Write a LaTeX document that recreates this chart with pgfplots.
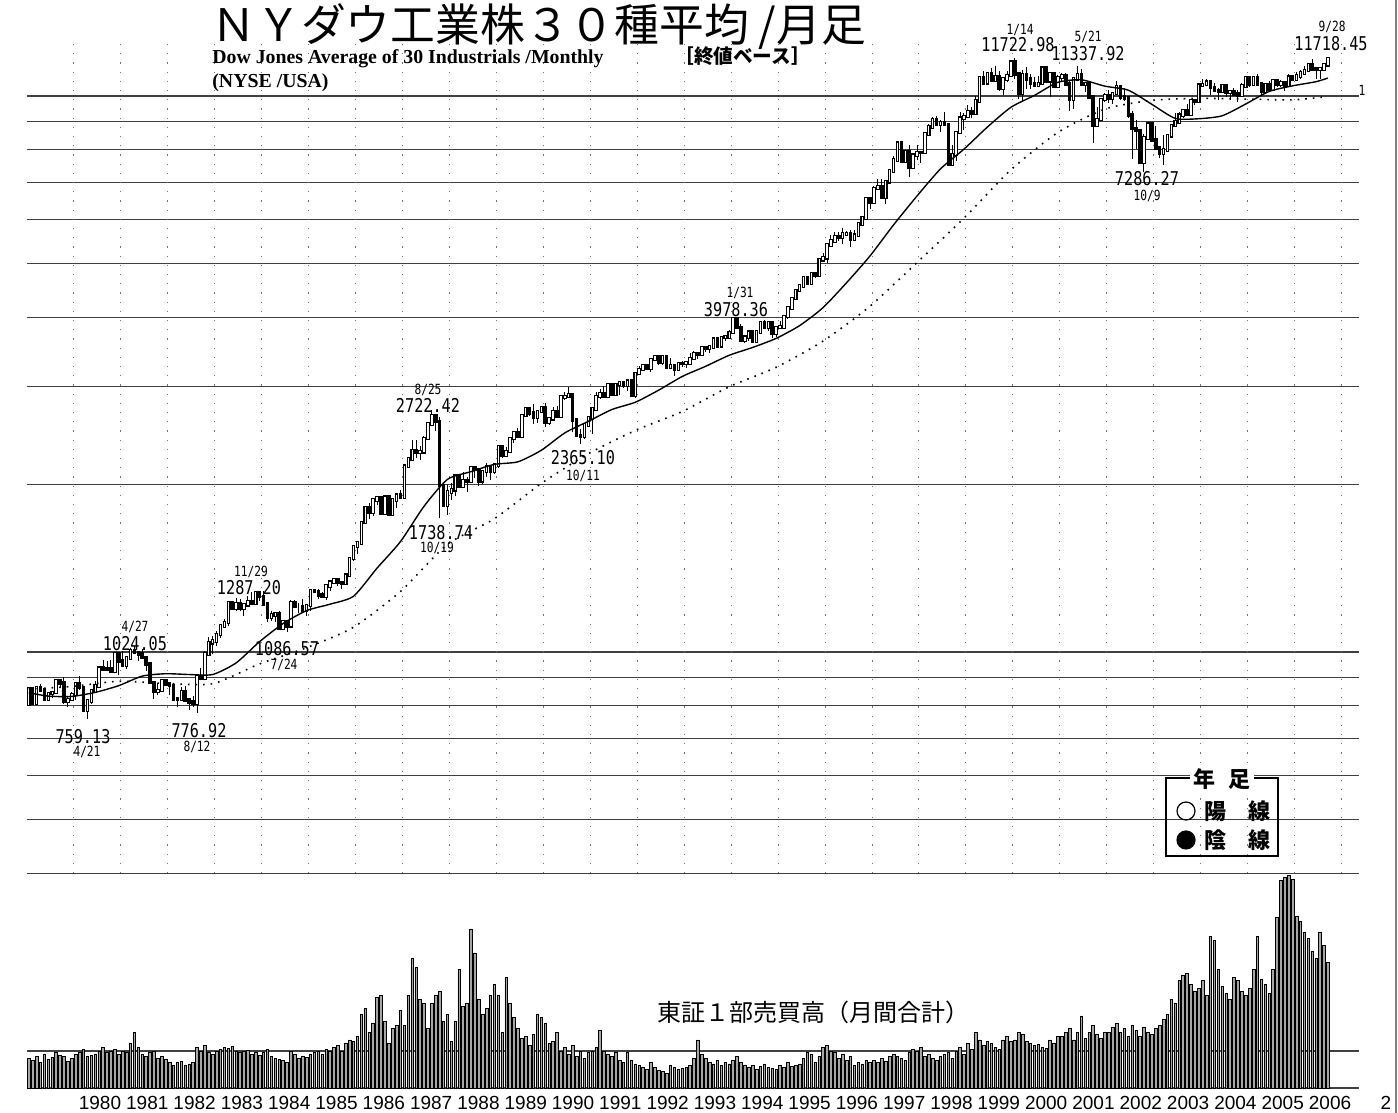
\documentclass[border=0pt]{standalone}
\usepackage{fontspec}
\usepackage{pgfplots}
\pgfplotsset{compat=1.18}
\usepackage{pgfplotstable}
\setmainfont{Liberation Sans}
\newfontfamily\jp{Noto Sans CJK JP}
\newfontfamily\ser{Liberation Serif}
\newfontfamily\mono[FakeStretch=0.8]{DejaVu Sans Mono}

% Dow monthly candles, Jan 1979 - Sep 2006 (close basis): open high low close
\pgfplotstableread{
o h l c
805 866 800 860
860 862 807 809
809 866 806 862
862 875 850 855
855 858 822 822
822 848 820 842
842 852 826 846
846 888 846 888
888 893 862 879
879 900 806 816
816 832 796 822
822 849 822 839
839 881 820 876
876 904 855 863
863 865 785 786
786 818 759.13 817
817 855 805 851
851 887 850 868
868 937 866 935
935 967 930 933
933 963 924 932
932 968 917 924
924 1000 916 993
993 995 908 964
964 1005 938 947
947 975 931 975
975 1016 973 1004
1004 1024.05 990 998
998 999 963 992
992 1011 976 977
977 980 926 952
952 953 881 881
881 885 824 850
850 878 838 853
853 889 852 889
889 893 869 875
875 882 838 871
871 872 824 824
824 824 795 823
823 866 823 848
848 869 819 820
820 821 788 812
812 834 796 809
809 901 776.92 901
901 934 895 896
896 1005 896 992
992 1066 990 1039
1039 1070 990 1047
1047 1093 1027 1076
1076 1121 1060 1113
1113 1146 1104 1130
1130 1227 1113 1226
1226 1233 1190 1200
1200 1249 1185 1222
1222 1244 1183 1199
1199 1216 1163 1216
1216 1260 1206 1233
1233 1284 1223 1225
1225 1287.20 1214 1276
1276 1287 1236 1259
1259 1287 1220 1221
1221 1225 1134 1155
1155 1185 1139 1165
1165 1176 1131 1171
1171 1187 1104 1105
1105 1133 1102 1132
1132 1135 1086.57 1115
1115 1239 1115 1224
1224 1238 1198 1207
1207 1225 1175 1207
1207 1245 1186 1189
1189 1212 1163 1212
1212 1292 1185 1287
1287 1300 1276 1284
1284 1299 1247 1267
1267 1284 1252 1258
1258 1316 1242 1315
1315 1335 1290 1335
1335 1360 1327 1347
1347 1355 1313 1334
1334 1339 1297 1329
1329 1375 1329 1374
1374 1476 1374 1472
1472 1553 1458 1547
1547 1571 1502 1571
1571 1713 1571 1709
1709 1821 1696 1819
1819 1856 1735 1784
1784 1882 1758 1877
1877 1895 1837 1893
1893 1909 1766 1775
1775 1905 1763 1898
1898 1919 1755 1768
1768 1878 1768 1878
1878 1916 1817 1914
1914 1955 1896 1896
1896 2163 1896 2158
2158 2245 2158 2224
2224 2405 2220 2305
2305 2405 2231 2286
2286 2342 2215 2292
2292 2446 2292 2419
2419 2572 2409 2572
2572 2722.42 2546 2663
2663 2663 2493 2596
2596 2641 1738.74 1994
1994 2014 1834 1834
1834 1998 1766 1939
1939 2015 1879 1958
1958 2072 1910 2072
2072 2087 1978 1988
1988 2110 1988 2032
2032 2063 1941 2031
2031 2153 2031 2142
2142 2159 2055 2129
2129 2134 1990 2032
2032 2113 2002 2113
2113 2183 2067 2149
2149 2150 2038 2115
2115 2169 2092 2169
2169 2342 2144 2342
2342 2347 2236 2258
2258 2340 2244 2294
2294 2419 2293 2419
2419 2502 2379 2480
2480 2531 2440 2440
2440 2661 2440 2661
2661 2744 2658 2737
2737 2761 2659 2693
2693 2791 2569 2645
2645 2706 2582 2706
2706 2753 2687 2753
2753 2810 2543 2591
2591 2649 2564 2627
2627 2755 2616 2707
2707 2766 2645 2657
2657 2878 2657 2877
2877 2935 2843 2881
2881 2999 2880 2905
2905 2905 2483 2614
2614 2628 2452 2452
2452 2523 2365.10 2442
2442 2560 2420 2560
2560 2637 2553 2634
2634 2737 2470 2736
2736 2935 2730 2882
2882 2973 2856 2914
2914 3004 2874 2888
2888 3028 2876 3028
3028 3036 2906 2907
2907 3025 2907 3025
3025 3056 2898 3044
3044 3047 2983 3017
3017 3077 2950 3069
3069 3070 2894 2895
2895 3169 2864 3169
3169 3264 3169 3223
3223 3283 3223 3268
3268 3291 3215 3235
3235 3359 3182 3359
3359 3398 3337 3397
3397 3413 3282 3319
3319 3394 3284 3394
3394 3395 3228 3257
3257 3377 3250 3272
3272 3291 3137 3226
3226 3306 3224 3305
3305 3333 3256 3301
3301 3310 3242 3310
3310 3443 3310 3371
3371 3478 3371 3435
3435 3446 3370 3428
3428 3555 3428 3527
3527 3554 3467 3516
3516 3568 3449 3539
3539 3652 3539 3651
3651 3651 3538 3555
3555 3681 3555 3681
3681 3710 3625 3684
3684 3794 3684 3754
3754 3978.36 3754 3978
3978 3978 3809 3832
3832 3896 3626 3636
3636 3705 3594 3682
3682 3766 3629 3758
3758 3773 3625 3625
3625 3765 3625 3765
3765 3917 3737 3913
3913 3954 3831 3843
3843 3937 3775 3908
3908 3908 3674 3739
3739 3863 3685 3834
3834 3932 3832 3844
3844 4011 3844 4011
4011 4173 3979 4158
4158 4321 4158 4321
4321 4465 4321 4465
4465 4589 4465 4556
4556 4727 4556 4708
4708 4708 4580 4611
4611 4801 4611 4789
4789 4802 4703 4755
4755 5105 4755 5074
5074 5216 5059 5117
5117 5395 5000 5395
5395 5631 5374 5486
5486 5683 5470 5587
5587 5689 5486 5569
5569 5778 5420 5643
5643 5719 5624 5655
5655 5729 5346 5529
5529 5734 5529 5616
5616 5894 5607 5882
5882 6094 5882 6029
6029 6547 6029 6522
6522 6561 6269 6448
6448 6883 6442 6813
6813 7079 6813 6878
6878 7085 6583 6583
6583 7009 6391 7009
7009 7384 7009 7331
7331 7796 7269 7673
7673 8254 7673 8223
8223 8223 7622 7622
7622 7996 7622 7945
7945 8178 7161 7442
7442 7881 7401 7823
7823 8150 7660 7908
7908 7978 7580 7907
7907 8546 7907 8546
8546 8906 8540 8800
8800 9184 8800 9063
9063 9211 8900 8900
8900 9070 8627 8952
8952 9338 8883 8883
8883 8883 7539 7539
7539 8154 7539 7843
7843 8592 7632 8592
8592 9374 8592 9117
9117 9320 8696 9181
9181 9644 9120 9359
9359 9552 9134 9307
9307 10007 9297 9786
9786 10879 9786 10789
10789 11108 10466 10560
10560 10971 10491 10971
10971 11209 10655 10655
10655 11300 10646 10829
10829 11079 10213 10337
10337 10730 10019 10730
10730 11090 10582 10878
10878 11497 10878 11497
11497 11722.98 10738 10941
10941 11041 9863 10128
10128 11119 9796 10922
10922 11287 10306 10734
10734 10935 10300 10522
10522 10815 10376 10448
10448 10843 10406 10522
10522 11252 10522 11215
11215 11310 10650 10651
10651 10971 9976 10971
10971 10977 10399 10414
10414 10899 10318 10788
10788 10983 10587 10887
10887 10983 10441 10495
10495 10645 9390 9879
9879 10811 9485 10735
10735 11337.92 10735 10912
10912 11175 10434 10502
10502 10610 10175 10523
10523 10551 9949 9950
9950 9950 8236 8848
8848 9545 8836 9075
9075 9872 9075 9852
9852 10137 9764 10022
10022 10259 9713 9920
9920 10145 9686 10106
10106 10635 10106 10404
10404 10404 9819 9946
9946 10353 9809 9925
9925 9925 9120 9243
9243 9380 7702 8737
8737 9054 8044 8664
8664 8664 7592 7592
7592 8525 7286.27 8397
8397 8931 8368 8896
8896 8896 8303 8342
8342 8843 8053 8054
8054 8110 7749 7891
7891 8522 7524 7992
7992 8502 7992 8480
8480 8850 8454 8850
8850 9323 8850 8985
8985 9338 8985 9234
9234 9429 9127 9416
9416 9659 9275 9275
9275 9837 9275 9801
9801 9858 9619 9782
9782 10454 9782 10454
10454 10738 10454 10488
10488 10737 10488 10584
10584 10678 10048 10358
10358 10571 10226 10226
10226 10317 9852 10188
10188 10479 10188 10435
10435 10435 9962 10140
10140 10195 9815 10174
10174 10342 10080 10080
10080 10240 9750 10027
10027 10572 10027 10428
10428 10855 10428 10783
10783 10784 10368 10490
10490 10841 10490 10766
10766 10940 10456 10504
10504 10504 10012 10193
10193 10542 10140 10467
10467 10623 10275 10275
10275 10706 10270 10641
10641 10697 10397 10482
10482 10682 10378 10569
10569 10569 10216 10440
10440 10932 10396 10806
10806 10889 10700 10718
10718 11043 10667 10865
10865 11137 10749 10993
10993 11317 10959 11109
11109 11382 11073 11367
11367 11642 11095 11168
11168 11247 10707 11150
11150 11220 10739 11186
11186 11382 11076 11381
11381 11718.45 11381 11679
}\price

% TSE 1st section monthly volume (rough units, line at 100)
\pgfplotstableread{
v
80
75
85
70
90
78
82
95
88
85
72
80
90
95
105
85
88
92
100
110
95
98
105
90
100
95
120
150
110
90
85
95
100
80
85
78
70
62
68
72
60
65
70
110
100
115
95
90
100
105
110
108
112
100
95
98
102
90
95
88
95
105
85
80
78
75
70
100
90
80
85
82
90
95
100
92
105
98
110
115
100
120
130
125
140
200
215
150
175
245
250
180
120
160
170
210
170
250
350
325
240
230
160
230
250
260
180
200
125
180
320
220
230
430
365
240
200
215
250
280
250
150
300
230
190
160
135
140
115
145
200
190
175
120
125
150
100
110
90
115
85
100
80
95
100
110
157
100
90
85
95
75
70
95
75
65
60
55
50
70
55
48
45
40
60
55
50
52
55
60
80
130
90
80
70
65
75
60
70
65
75
85
70
60
55
62
50
58
65
55
52
50
60
55
70
58
60
65
80
95
90
70
85
110
115
100
95
80
90
75
85
60
70
65
75
70
75
70
80
72
85
90
85
80
75
95
105
100
110
85
90
80
75
85
90
95
80
100
110
90
120
105
150
130
115
125
120
110
105
130
140
125
130
150
145
125
120
115
118
110
108
130
120
140
140
150
160
130
150
195
135
150
170
145
135
150
150
165
175
150
160
140
170
155
140
165
150
145
160
170
185
200
240
230
290
305
310
280
260
270
290
250
410
400
320
275
255
240
300
290
260
250
270
320
410
295
280
255
320
460
560
570
575
565
465
450
420
405
370
350
420
385
340
}\volume

% 24-month moving average (solid)
\pgfplotstableread{
m v
0 845
5 833
11 832
17 846
23 870
29 905
35 914
41 911
47 911
53 956
59 1044
65 1125
71 1187
77 1219
83 1260
89 1415
95 1580
101 1828
107 2044
113 2110
119 2175
125 2198
131 2306
137 2478
143 2599
149 2729
155 2813
161 2958
167 3130
173 3265
179 3417
185 3530
191 3665
197 3864
203 4164
209 4615
215 5157
221 5863
227 6609
233 7394
239 8024
245 8794
251 9543
257 10023
263 10581
269 10691
275 10414
281 10241
287 9661
293 9112
299 9100
305 9213
311 9672
317 10190
323 10428
329 10610
332 10770
}\maA

% 60-month moving average (dotted)
\pgfplotstableread{
m v
0 858
11 867
23 886
35 878
47 877
59 952
71 1018
83 1108
95 1285
107 1562
119 1737
131 2010
143 2273
155 2503
167 2707
179 2999
191 3251
203 3625
215 4188
227 5017
239 6031
251 7367
263 8598
275 9470
287 9819
299 9900
311 9871
323 9839
332 9975
}\maB

\pgfplotsset{
  candle/.style={draw=none, mark=none, forget plot,
    error bars/y dir=plus, error bars/y explicit, error bars/error mark=none},
}

\begin{document}
\begin{tikzpicture}
% price panel
\begin{axis}[
  at={(13.4pt,119.85pt)}, anchor=south west,
  scale only axis, width=666.2pt, height=415.6pt,
  xmin=-0.5, xmax=340,
  ymode=log, ymin=400, ymax=12500,
  axis line style={draw=none}, tick style={draw=none},
  xtick=\empty,
  ytick={400,500,600,700,800,900,1000,2000,3000,4000,5000,6000,7000,8000,9000,10000},
  yticklabels={},
  ymajorgrids,
  major grid style={black!75, line width=0.6pt},
  extra x ticks={11.5,23.5,...,335.5},
  extra x tick labels={},
  extra x tick style={xmajorgrids=true,
    major grid style={black!55, line width=0.5pt, dash pattern=on 0.6pt off 4pt}},
  clip=false,
]
\addplot[candle, error bars/error bar style={draw=black, line width=0.5pt}]
  table[x expr=\coordindex, y=l, y error plus expr=\thisrow{h}-\thisrow{l}] {\price};
\addplot[candle, restrict expr to domain={\thisrow{c}-\thisrow{o}}{0:100000},
  error bars/error bar style={draw=black, line width=1.8pt, line cap=rect}]
  table[x expr=\coordindex, y=o, y error plus expr=\thisrow{c}-\thisrow{o}] {\price};
\addplot[candle, restrict expr to domain={\thisrow{c}-\thisrow{o}}{0:100000},
  error bars/error bar style={draw=white, line width=0.7pt, line cap=rect}]
  table[x expr=\coordindex, y=o, y error plus expr=\thisrow{c}-\thisrow{o}] {\price};
\addplot[candle, restrict expr to domain={\thisrow{o}-\thisrow{c}}{0.001:100000},
  error bars/error bar style={draw=black, line width=1.8pt, line cap=rect}]
  table[x expr=\coordindex, y=c, y error plus expr=\thisrow{o}-\thisrow{c}] {\price};
\addplot[black, line width=0.7pt, smooth, tension=0.4, mark=none] table[x=m, y=v] {\maA};
\addplot[black, line width=0.8pt, smooth, tension=0.4, mark=none,
  dash pattern=on 0.8pt off 3pt] table[x=m, y=v] {\maB};
\end{axis}

% volume panel
\begin{axis}[
  at={(13.4pt,12.5pt)}, anchor=south west,
  scale only axis, width=666.2pt, height=106pt,
  xmin=-0.5, xmax=340, ymin=0, ymax=573,
  axis line style={draw=none}, tick style={draw=none},
  ytick={0,100}, yticklabels={}, ymajorgrids,
  major grid style={black!75, line width=0.6pt},
  xtick={18.2,30.29,42.38,54.47,66.56,78.65,90.74,102.83,114.92,127.01,139.1,151.19,163.28,175.37,187.46,199.55,211.64,223.73,235.82,247.91,260,272.09,284.18,296.27,308.36,320.45,332.54},
  xticklabels={1980,1981,1982,1983,1984,1985,1986,1987,1988,1989,1990,1991,1992,1993,1994,1995,1996,1997,1998,1999,2000,2001,2002,2003,2004,2005,2006},
  xticklabel style={font=\fontsize{9.5pt}{10pt}\selectfont, anchor=north, inner sep=0pt, yshift=-4pt},
  clip=false,
]
\addplot[ybar, bar width=1.3pt, bar shift=0pt, draw=black, line width=0.35pt, fill=black!35]
  table[x expr=\coordindex, y=v] {\volume};
\end{axis}

% texts, placed in image pixels (0.5pt each, y downwards)
\begin{scope}[x=0.5pt, y=-0.5pt, shift={(0pt,556.5pt)}]
\node[anchor=base west, inner sep=0] at (211,42)
  {\jp\fontsize{22.4pt}{24pt}\selectfont ＮＹダウ工業株３０種平均 /月足};
\node[anchor=base west, inner sep=0] at (212,64)
  {\ser\bfseries\fontsize{9.9pt}{10pt}\selectfont Dow Jones Average of 30 Industrials /Monthly};
\node[anchor=base west, inner sep=0] at (212,88)
  {\ser\bfseries\fontsize{9.9pt}{10pt}\selectfont (NYSE /USA)};
\node[anchor=base west, inner sep=0] at (674,64)
  {\jp\bfseries\fontsize{9.8pt}{11pt}\selectfont ［終値ベース］};

\tikzset{val/.style={inner sep=0, font=\mono\fontsize{9.5pt}{10pt}\selectfont},
         dat/.style={inner sep=0, font=\mono\fontsize{7pt}{8pt}\selectfont}}
\node[dat] at (1020,30) {1/14};   \node[val] at (1018,45) {11722.98};
\node[dat] at (1088,37) {5/21};   \node[val] at (1088,54) {11337.92};
\node[dat] at (1332,27) {9/28};   \node[val] at (1331,44) {11718.45};
\node[val] at (1147,179) {7286.27}; \node[dat] at (1147,196) {10/9};
\node[dat] at (740,293) {1/31};   \node[val] at (736,310) {3978.36};
\node[dat] at (428,390) {8/25};   \node[val] at (428,405) {2722.42};
\node[val] at (583,458) {2365.10}; \node[dat] at (583,476) {10/11};
\node[val] at (441,533) {1738.74}; \node[dat] at (437,548) {10/19};
\node[dat] at (251,572) {11/29};  \node[val] at (249,588) {1287.20};
\node[val] at (287,649) {1086.57}; \node[dat] at (284,665) {7/24};
\node[dat] at (135,627) {4/27};   \node[val] at (135,644) {1024.05};
\node[val] at (83,737) {759.13};  \node[dat] at (87,752) {4/21};
\node[val] at (199,731) {776.92}; \node[dat] at (197,747) {8/12};
\node[dat] at (1362,90) {1};

% legend box
\draw[black, line width=1pt] (1166,778) rectangle (1278,856);
\node[fill=white, inner sep=1.5pt] at (1222,779)
  {\jp\bfseries\fontsize{11pt}{12pt}\selectfont 年\hspace{0.6em}足};
\draw[black, line width=0.6pt] (1186,811) circle[radius=4.5pt];
\fill[black] (1186,840) circle[radius=4.8pt];
\node[anchor=west, inner sep=0] at (1204,811)
  {\jp\bfseries\fontsize{11pt}{12pt}\selectfont 陽\hspace{1em}線};
\node[anchor=west, inner sep=0] at (1204,840)
  {\jp\bfseries\fontsize{11pt}{12pt}\selectfont 陰\hspace{1em}線};

\node[anchor=base, inner sep=0] at (813,1022)
  {\jp\fontsize{12pt}{13pt}\selectfont 東証１部売買高（月間合計）};
\node[anchor=north, inner sep=0] at (1386,1096)
  {\fontsize{9.5pt}{10pt}\selectfont 2};
\draw[black!50, line width=1pt] (1396,0) -- (1396,1113);
\end{scope}

\pgfresetboundingbox
\useasboundingbox (0,0) rectangle (699pt,556.5pt);
\end{tikzpicture}
\end{document}
